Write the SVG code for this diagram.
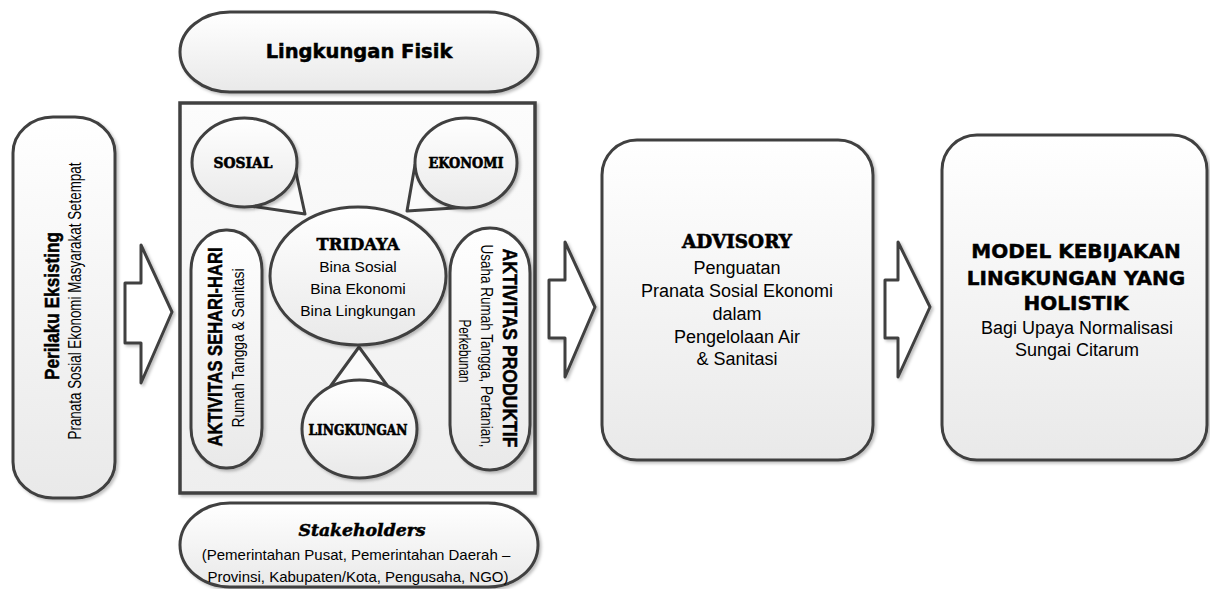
<svg xmlns="http://www.w3.org/2000/svg" width="1210" height="589" viewBox="0 0 1210 589">
<defs>
<linearGradient id="g" x1="0" y1="0" x2="0" y2="1"><stop offset="0" stop-color="#ffffff"/><stop offset="1" stop-color="#e9e9e9"/></linearGradient>
<linearGradient id="gm" x1="0" y1="0" x2="0" y2="1"><stop offset="0" stop-color="#fcfcfc"/><stop offset="1" stop-color="#eeeeee"/></linearGradient>
<filter id="sh" x="-10%" y="-10%" width="125%" height="125%"><feDropShadow dx="2" dy="2" stdDeviation="1.5" flood-color="#000" flood-opacity="0.25"/></filter>
<style>
.s{fill:url(#g);stroke:#404040;stroke-width:3;filter:url(#sh)}
.m{fill:url(#gm);stroke:#404040;stroke-width:3.5;filter:url(#sh)}
.w{fill:#fafafa;stroke:#404040;stroke-width:3;stroke-linejoin:round}
.a{fill:#ffffff;stroke:#404040;stroke-width:3;stroke-linejoin:round;filter:url(#sh)}
text{fill:#000;text-anchor:middle}
.r{font-family:"Liberation Sans",Arial,sans-serif}
.hb{font-family:"DejaVu Sans",sans-serif;font-weight:bold;stroke:#000;stroke-width:0.5}
.sb{font-family:"DejaVu Serif",serif;font-weight:bold;stroke:#000;stroke-width:0.6}
.nb{font-family:"Liberation Sans",Arial,sans-serif;font-weight:bold;stroke:#000;stroke-width:0.5}
</style>
</defs>
<rect width="1210" height="589" fill="#ffffff"/>

<g id="perilaku">
<rect class="s" x="13" y="117" width="102" height="381" rx="40" ry="36"/>
<text class="nb" font-size="20" textLength="148" lengthAdjust="spacingAndGlyphs" transform="translate(59,306) rotate(-90)">Perilaku Eksisting</text>
<text class="r" font-size="18" textLength="277" lengthAdjust="spacingAndGlyphs" transform="translate(81,301) rotate(-90)">Pranata Sosial Ekonomi Masyarakat Setempat</text>
</g>

<g id="lingkungan-fisik">
<rect class="s" x="180" y="12" width="358" height="80" rx="50" ry="40"/>
<text class="hb" font-size="19.5" x="359" y="58">Lingkungan Fisik</text>
</g>

<g id="main-box">
<rect class="m" x="180" y="103" width="355" height="390"/>
</g>

<g id="sosial">
<path class="w" d="M295,168 L305,214 L250,206 Z"/>
<ellipse class="s" cx="244.5" cy="162.5" rx="52.5" ry="44.5"/>
<text class="sb" font-size="14" textLength="59" lengthAdjust="spacingAndGlyphs" x="243" y="168">SOSIAL</text>
</g>

<g id="ekonomi">
<path class="w" d="M415,165 L407,211 L470,207 Z"/>
<ellipse class="s" cx="466" cy="163" rx="51" ry="45"/>
<text class="sb" font-size="14" textLength="75" lengthAdjust="spacingAndGlyphs" x="466" y="168">EKONOMI</text>
</g>

<g id="lingkungan">
<path class="w" d="M327,391 L359,347 L392,392 Z"/>
<ellipse class="s" cx="359.5" cy="429" rx="57.5" ry="49"/>
<text class="sb" font-size="14" textLength="99" lengthAdjust="spacingAndGlyphs" x="358" y="435">LINGKUNGAN</text>
</g>

<g id="tridaya">
<ellipse class="s" cx="358" cy="276" rx="88" ry="69"/>
<text class="sb" font-size="17" textLength="83" lengthAdjust="spacingAndGlyphs" x="358" y="250">TRIDAYA</text>
<text class="r" font-size="15.5" x="358" y="272">Bina Sosial</text>
<text class="r" font-size="15.5" x="358" y="294">Bina Ekonomi</text>
<text class="r" font-size="15.5" x="358" y="316">Bina Lingkungan</text>
</g>

<g id="aktivitas-sehari-hari">
<rect class="s" x="191" y="230" width="71" height="238" rx="35" ry="40"/>
<text class="nb" font-size="20" textLength="199" lengthAdjust="spacingAndGlyphs" transform="translate(222,347) rotate(-90)">AKTIVITAS SEHARI-HARI</text>
<text class="r" font-size="17" textLength="159" lengthAdjust="spacingAndGlyphs" transform="translate(244,348) rotate(-90)">Rumah Tangga &amp; Sanitasi</text>
</g>

<g id="aktivitas-produktif">
<rect class="s" x="450" y="228" width="80" height="242" rx="40" ry="45"/>
<text class="nb" font-size="20" textLength="199" lengthAdjust="spacingAndGlyphs" transform="translate(503,348) rotate(90)">AKTIVITAS PRODUKTIF</text>
<text class="r" font-size="17" textLength="203" lengthAdjust="spacingAndGlyphs" transform="translate(481,346) rotate(90)">Usaha Rumah Tangga, Pertanian,</text>
<text class="r" font-size="17" textLength="63" lengthAdjust="spacingAndGlyphs" transform="translate(459,351) rotate(90)">Perkebunan</text>
</g>

<g id="stakeholders">
<rect class="s" x="180" y="503" width="358" height="84" rx="50" ry="42"/>
<text font-family="'DejaVu Serif',serif" font-weight="bold" font-style="italic" font-size="16" stroke="#000" stroke-width="0.5" textLength="127" lengthAdjust="spacingAndGlyphs" x="362" y="536">Stakeholders</text>
<text class="r" font-size="15" x="356" y="560">(Pemerintahan Pusat, Pemerintahan Daerah –</text>
<text class="r" font-size="15" x="358" y="582">Provinsi, Kabupaten/Kota, Pengusaha, NGO)</text>
</g>

<g id="advisory">
<rect class="s" x="602" y="140" width="271" height="320" rx="35"/>
<text class="sb" font-size="18" textLength="110" lengthAdjust="spacingAndGlyphs" x="737" y="248">ADVISORY</text>
<text class="r" font-size="18" x="737" y="274">Penguatan</text>
<text class="r" font-size="18" x="737" y="297">Pranata Sosial Ekonomi</text>
<text class="r" font-size="18" x="737" y="320">dalam</text>
<text class="r" font-size="18" x="737" y="343">Pengelolaan Air</text>
<text class="r" font-size="18" x="737" y="365">&amp; Sanitasi</text>
</g>

<g id="model">
<rect class="s" x="942" y="135" width="265" height="325" rx="35"/>
<text class="hb" font-size="20" x="1076" y="258">MODEL KEBIJAKAN</text>
<text class="hb" font-size="20" x="1076" y="285">LINGKUNGAN YANG</text>
<text class="hb" font-size="20" x="1076" y="310">HOLISTIK</text>
<text class="r" font-size="18" x="1077" y="334">Bagi Upaya Normalisasi</text>
<text class="r" font-size="18" x="1077" y="356">Sungai Citarum</text>
</g>

<g id="connectors">
<polygon class="a" points="125,283 141,283 141,245 172,312 141,383 141,343 125,343"/>
<polygon class="a" points="549,280 565,280 565,242 595,307 565,377 565,338 549,338"/>
<polygon class="a" points="885,280 898,280 898,242 930,307 898,377 898,338 885,338"/>
</g>
</svg>
